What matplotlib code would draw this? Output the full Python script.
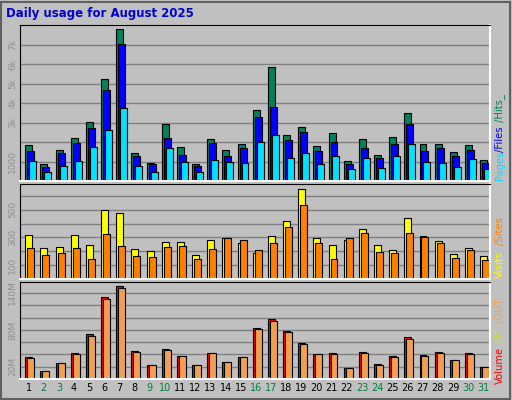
import numpy as np
import matplotlib.pyplot as plt

days = np.arange(1, 32)
weekend = [2, 3, 9, 10, 16, 17, 23, 24, 30, 31]

hits = [1863, 896, 1614, 2229, 3050, 5255, 7819, 1460, 947, 2930, 1759, 896, 2178, 1614, 1921, 3665,
        5870, 2383, 2793, 1810, 2485, 1050, 2178, 1357, 2280, 3511, 1921, 1921, 1511, 1863, 1101]
files = [1563, 742, 1460, 1973, 2742, 4690, 7050, 1307, 896, 2229, 1357, 793, 1973, 1307, 1717, 3305,
         3819, 2126, 2537, 1563, 2024, 896, 1717, 1204, 1921, 2947, 1563, 1717, 1307, 1614, 947]
pages = [1050, 486, 793, 1050, 1759, 2640, 3767, 793, 486, 1717, 998, 486, 1101, 998, 947, 2024,
         2383, 1204, 1460, 896, 1307, 640, 1204, 691, 1307, 1921, 998, 947, 742, 1152, 640]
visits = [317, 222, 229, 317, 244, 500, 478, 215, 200, 266, 266, 171, 280, 295, 259, 185,
          310, 420, 646, 295, 244, 280, 361, 244, 207, 441, 310, 273, 178, 222, 163]
sites = [222, 171, 185, 222, 141, 324, 237, 163, 156, 229, 237, 141, 215, 295, 280, 207,
         259, 376, 537, 259, 141, 295, 332, 193, 185, 332, 302, 259, 149, 207, 134]
volume = [35.8, 13.4, 25.7, 41.9, 73.7, 134, 150.8, 45.3, 23.5, 48.6, 37.4, 22.3, 41.9, 28.5, 35.2, 82.7,
          97.8, 78.8, 58.7, 40.2, 41.9, 18.4, 43.6, 25.1, 37.4, 67.6, 38.5, 43.6, 30.2, 41.9, 20.1]
vol_out = [34.1, 13.4, 25.7, 40.2, 70.4, 130.7, 147.5, 43.6, 23.5, 46.9, 37.4, 22.3, 41.9, 28.5, 35.2, 81,
           94.4, 77.1, 57, 40.2, 40.2, 18.4, 41.9, 23.5, 35.2, 65.4, 36.9, 41.9, 30.2, 40.2, 20.1]
vol_in = [0.5, 0.3, 0.5, 0.5, 2, 3, 4, 0.5, 0.3, 2, 0.5, 0.3, 0.5, 0.5, 0.5, 2,
          3, 0.5, 2, 0.5, 0.5, 0.3, 0.5, 0.3, 0.5, 2, 0.5, 0.5, 0.3, 0.5, 0.3]

BG = '#C0C0C0'
fig = plt.figure(figsize=(5.12, 4.0), dpi=100, facecolor=BG)
W, H = 512, 400

def ax_at(top, bottom):
    return fig.add_axes([20 / W, 1 - bottom / H, 470 / W, (bottom - top) / H], facecolor=BG)

def style(ax, ymax, ticks, labels):
    ax.set_xlim(0.5, 31.5)
    ax.set_ylim(0, ymax)
    ax.set_yticks(ticks)
    ax.set_yticklabels(labels, rotation=90, va='center', color='#909090', fontsize=6.5)
    ax.tick_params(length=0, pad=2)
    ax.grid(axis='y', color='#808080', linewidth=1)
    ax.set_axisbelow(True)
    ax.set_xticks([])
    for s in ['top', 'left']:
        ax.spines[s].set_color('black')
    for s in ['bottom', 'right']:
        ax.spines[s].set_color('white')
        ax.spines[s].set_linewidth(1.5)

bw = 0.46
ek = dict(edgecolor='black', linewidth=0.8)

ax1 = ax_at(25, 181)
style(ax1, 8000, range(1000, 8000, 1000), ['1000', '', '3k', '4k', '5k', '6k', '7k'])
ax1.bar(days - 0.15, hits, bw, color='#00805C', align='edge', **ek)
ax1.bar(days - 0.02, files, bw, color='#0000FF', align='edge', **ek)
ax1.bar(days + 0.11, pages, bw, color='#00E0FF', align='edge', **ek)

ax2 = ax_at(184, 279)
style(ax2, 685, range(100, 700, 100), ['100', '', '300', '', '500', ''])
ax2.bar(days - 0.15, visits, bw, color='#FFFF00', align='edge', **ek)
ax2.bar(days - 0.02, sites, bw, color='#FF8000', align='edge', **ek)

ax3 = ax_at(282, 379)
style(ax3, 158, range(20, 160, 20), ['20M', '', '', '80M', '', '', '140M'])
ax3.bar(days - 0.15, volume, bw, color='#FF0000', align='edge', **ek)
ax3.bar(days - 0.11, vol_in, 0.1, color='#C0FF60', align='edge', edgecolor='black', linewidth=0.3)
ax3.bar(days - 0.02, vol_out, bw, color='#F0A050', align='edge', **ek)

for d in days:
    fig.text((20 + (d - 0.5) * 470 / 31 + 1) / W, 1 - 388 / H, str(d), ha='center', va='center',
             fontsize=7, color='#008040' if d in weekend else 'black')

fig.text(6 / W, 1 - 14 / H, 'Daily usage for August 2025', color='#0000D0', fontweight='bold',
         fontsize=8.5, va='center')

def side(parts, y0):
    y = y0
    for txt, col, h in parts:
        fig.text(500 / W, 1 - y / H, txt, rotation=90, color=col, fontsize=7.2, ha='center', va='bottom')
        y -= h

side([('Pages', '#00E0FF', 28), ('/Files', '#0000FF', 30), ('/Hits_', '#00805C', 35)], 180)
side([('Visits', '#FFFF00', 33), ('/Sites', '#FF8000', 28)], 278)
side([('Volume', '#FF0000', 41), ('/IN', '#C0E040', 20), ('/OUT', '#F0A050', 36)], 384)

# frame lines
fig.add_artist(plt.Rectangle((1 / W, 1 / H), 1 - 3 / W, 1 - 3 / H, fill=False,
                             edgecolor='#606060', linewidth=1.5, transform=fig.transFigure))

fig.savefig('out.png', dpi=100, facecolor=BG)
